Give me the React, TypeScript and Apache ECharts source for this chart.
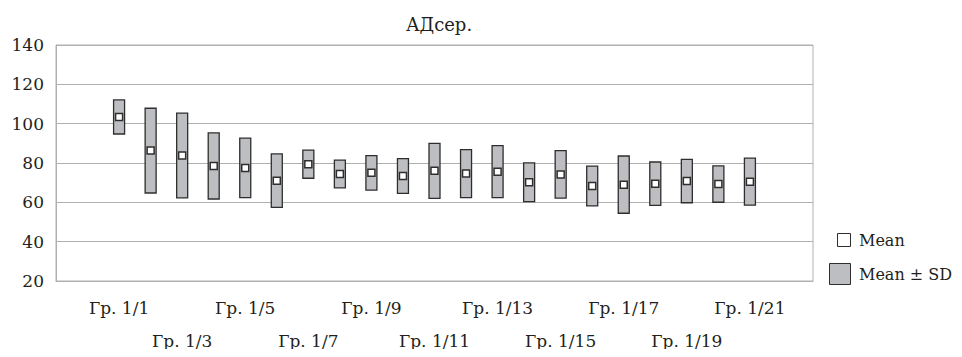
import React, { useEffect, useRef } from "react";
import * as echarts from "echarts";

const categories = [
  "Гр. 1/1", "Гр. 1/2", "Гр. 1/3", "Гр. 1/4", "Гр. 1/5", "Гр. 1/6", "Гр. 1/7",
  "Гр. 1/8", "Гр. 1/9", "Гр. 1/10", "Гр. 1/11", "Гр. 1/12", "Гр. 1/13", "Гр. 1/14",
  "Гр. 1/15", "Гр. 1/16", "Гр. 1/17", "Гр. 1/18", "Гр. 1/19", "Гр. 1/20", "Гр. 1/21",
];
const means = [
  103.4, 86.3, 83.8, 78.5, 77.5, 71.0, 79.4, 74.4, 75.0, 73.4, 76.0,
  74.6, 75.6, 70.2, 74.2, 68.3, 69.0, 69.5, 70.8, 69.3, 70.5,
];
const sds = [
  8.65, 21.55, 21.55, 16.8, 15.15, 13.6, 7.15, 7.05, 8.8, 8.8, 14.0,
  12.2, 13.25, 9.85, 12.05, 10.15, 14.55, 11.0, 11.0, 9.25, 11.95,
];
const yTicks = { min: 20, max: 140, interval: 20 };
const title = "АДсер.";
const legendMean = "Mean";
const legendSD = "Mean ± SD";

const FONT = "DejaVu Serif";
const TEXT = "#231f20";
const GRID = "#b0b0b0";
const BOX_FILL = "#bdbec2";
const BOX_STROKE = "#2e2e2e";

export default function App() {
  const ref = useRef<HTMLDivElement>(null);
  useEffect(() => {
    if (!ref.current) return;
    const chart = echarts.init(ref.current, null, { renderer: "svg" });
    const boxData = means.map((m, i) => [i, m - sds[i], m + sds[i]]);
    const meanData = means.map((m, i) => [i, m]);
    chart.setOption({
      animation: false,
      textStyle: { fontFamily: FONT },
      title: {
        text: title,
        left: 434,
        textAlign: "center",
        top: 10,
        textStyle: { fontFamily: FONT, fontSize: 18, fontWeight: "normal", color: TEXT },
      },
      grid: {
        left: 56,
        right: 149,
        top: 45,
        bottom: 72,
        show: true,
        borderColor: GRID,
        borderWidth: 1,
        backgroundColor: "transparent",
      },
      xAxis: {
        type: "value",
        min: -2,
        max: 22,
        interval: 2,
        splitLine: { show: false },
        axisTick: { show: false },
        axisLine: { show: true, onZero: false, lineStyle: { color: GRID } },
        axisLabel: {
          show: true,
          showMinLabel: true,
          showMaxLabel: true,
          margin: 10,
          fontFamily: FONT,
          fontSize: 17,
          color: TEXT,
          lineHeight: 33,
          verticalAlign: "top",
          formatter: (v: number) => {
            const i = Math.round(v);
            if (i < 0 || i >= categories.length) return "";
            const k = i / 2;
            return k % 2 === 0 ? categories[i] : "\n" + categories[i];
          },
        },
      },
      yAxis: {
        type: "value",
        min: yTicks.min,
        max: yTicks.max,
        interval: yTicks.interval,
        axisLine: { show: true, onZero: false, lineStyle: { color: GRID } },
        axisTick: { show: false },
        splitLine: { show: true, lineStyle: { color: GRID, width: 1 } },
        axisLabel: { fontFamily: FONT, fontSize: 17, color: TEXT, margin: 12 },
      },
      series: [
        {
          type: "custom",
          name: legendSD,
          data: boxData,
          renderItem: (params: any, api: any) => {
            const x = api.value(0);
            const top = api.coord([x, api.value(2)]);
            const bot = api.coord([x, api.value(1)]);
            const w = 11;
            return {
              type: "rect",
              shape: { x: top[0] - w / 2, y: top[1], width: w, height: bot[1] - top[1] },
              style: { fill: BOX_FILL, stroke: BOX_STROKE, lineWidth: 1.3 },
            };
          },
          z: 2,
        },
        {
          type: "scatter",
          name: legendMean,
          data: meanData,
          symbol: "rect",
          symbolSize: 7,
          itemStyle: { color: "#ffffff", borderColor: BOX_STROKE, borderWidth: 1.5, opacity: 1 },
          z: 3,
        },
      ],
      graphic: [
        {
          type: "rect",
          shape: { x: 837.5, y: 233.5, width: 13, height: 13 },
          style: { fill: "#ffffff", stroke: BOX_STROKE, lineWidth: 1 },
        },
        {
          type: "text",
          x: 859,
          y: 240,
          style: { text: legendMean, fontFamily: FONT, fontSize: 16, fill: TEXT, verticalAlign: "middle" },
        },
        {
          type: "rect",
          shape: { x: 829.5, y: 263.5, width: 21, height: 21 },
          style: { fill: BOX_FILL, stroke: BOX_STROKE, lineWidth: 1 },
        },
        {
          type: "text",
          x: 859,
          y: 274,
          style: { text: legendSD, fontFamily: FONT, fontSize: 16, fill: TEXT, verticalAlign: "middle" },
        },
      ],
    });
    return () => chart.dispose();
  }, []);
  return <div ref={ref} style={{ width: 962, height: 357, margin: -8 }} />;
}
